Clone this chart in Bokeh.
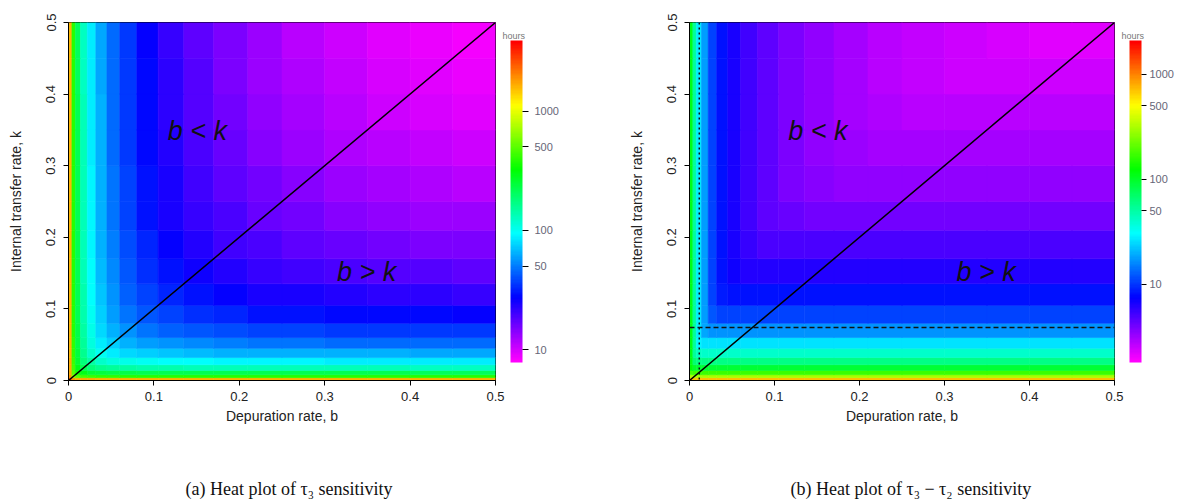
import colorsys
from bokeh.plotting import figure
from bokeh.models import (ColumnDataSource, LogColorMapper, ColorBar, FixedTicker,
                          Label, Span, Title)
from bokeh.layouts import row
from bokeh.embed import file_html
from bokeh.resources import INLINE

# ---------------- data ----------------
# cell edges along depuration rate b and internal transfer rate k
b_edges = [0, 0.004, 0.008, 0.014, 0.022, 0.032, 0.045, 0.06, 0.08, 0.105, 0.135,
           0.17, 0.21, 0.25, 0.3, 0.35, 0.4, 0.45, 0.5]
k_edges = [0, 0.004, 0.008, 0.014, 0.022, 0.032, 0.045, 0.06, 0.08, 0.105, 0.135,
           0.17, 0.21, 0.25, 0.3, 0.35, 0.4, 0.45, 0.5]

# (a) tau3 in hours: one row per k cell (bottom to top), one value per b cell
tau3 = [
    [2600, 1800, 1700, 1650, 1650, 1600, 1600, 1600, 1600, 1600, 1600, 1600, 1600, 1600, 1600, 1600, 1600, 1600],
    [1800, 648, 507, 452, 426, 412, 404, 398, 395, 392, 391, 389, 388, 388, 387, 386, 386, 386],
    [1700, 507, 354, 288, 256, 240, 231, 225, 221, 218, 216, 215, 214, 213, 212, 212, 211, 211],
    [1650, 452, 288, 216, 182, 162, 151, 144, 140, 137, 135, 133, 132, 132, 131, 131, 130, 130],
    [1650, 426, 256, 182, 144, 123, 111, 103, 98, 95, 93, 91, 90, 89, 88, 88, 88, 87],
    [1600, 412, 240, 162, 123, 101, 88, 79, 74, 70, 67, 66, 65, 64, 63, 63, 62, 62],
    [1600, 404, 231, 151, 111, 88, 74, 65, 59, 55, 52, 50, 49, 48, 47, 47, 46.5, 46],
    [1600, 398, 225, 144, 103, 79, 65, 56, 49, 44, 41, 39, 38, 37, 36.4, 35.9, 35.5, 35.2],
    [1600, 395, 221, 140, 98, 74, 59, 49, 42, 37, 34, 32, 30, 29, 28.5, 28, 27.6, 27.2],
    [1600, 392, 218, 137, 95, 70, 55, 44, 37, 32.4, 29.0, 26.7, 25.0, 23.9, 23.0, 22.4, 22.0, 21.6],
    [1600, 391, 216, 135, 93, 67, 52, 41, 34, 29.0, 25.5, 23.0, 21.4, 20.1, 19.1, 18.5, 18.0, 17.6],
    [1600, 389, 215, 133, 91, 66, 50, 39, 32, 26.7, 23.0, 20.5, 18.7, 17.4, 16.4, 15.7, 15.2, 14.8],
    [1600, 388, 214, 132, 90, 65, 49, 38, 30, 25.0, 21.4, 18.7, 16.9, 15.5, 14.5, 13.8, 13.2, 12.8],
    [1600, 388, 213, 132, 89, 64, 48, 37, 29, 23.9, 20.1, 17.4, 15.5, 14.1, 13.1, 12.3, 11.7, 11.3],
    [1600, 387, 212, 131, 88, 63, 47, 36.4, 28.5, 23.0, 19.1, 16.4, 14.5, 13.1, 12.0, 11.2, 10.6, 10.1],
    [1600, 386, 212, 131, 88, 63, 47, 35.9, 28, 22.4, 18.5, 15.7, 13.8, 12.3, 11.2, 10.4, 9.8, 9.3],
    [1600, 386, 211, 130, 88, 62, 46.5, 35.5, 27.6, 22.0, 18.0, 15.2, 13.2, 11.7, 10.6, 9.8, 9.15, 8.7],
    [1600, 386, 211, 130, 87, 62, 46, 35.2, 27.2, 21.6, 17.6, 14.8, 12.8, 11.3, 10.1, 9.3, 8.7, 8.2],
]

# (b) tau3 - tau2 in hours
tau3_minus_tau2 = [
    [750, 700, 700, 700, 700, 700, 700, 700, 700, 700, 700, 700, 700, 700, 700, 700, 700, 700],
    [340, 320, 320, 320, 320, 320, 320, 320, 320, 320, 320, 320, 320, 320, 320, 320, 320, 320],
    [180, 170, 170, 170, 170, 170, 170, 170, 170, 170, 170, 170, 170, 170, 170, 170, 170, 170],
    [120, 97, 95, 95, 95, 95, 95, 95, 95, 95, 95, 95, 95, 95, 95, 95, 95, 95],
    [110, 65, 60, 60, 60, 60, 60, 60, 60, 60, 60, 60, 60, 60, 60, 60, 60, 60],
    [110, 55, 42, 40, 40, 40, 40, 40, 40, 40, 40, 40, 40, 40, 40, 40, 40, 40],
    [110, 55, 29, 26, 26, 26, 26, 26, 26, 26, 26, 26, 26, 26, 26, 26, 26, 26],
    [110, 55, 27, 19, 17, 17, 17, 17, 17, 17, 17, 17, 17, 17, 17, 17, 17, 17],
    [110, 55, 27, 18, 12, 11, 11, 11, 11, 11, 11, 11, 11, 11, 11, 11, 11, 11],
    [110, 55, 27, 18, 11, 8.5, 8.0, 8.0, 8.0, 8.0, 8.0, 8.0, 8.0, 8.0, 8.0, 8.0, 8.0, 8.0],
    [110, 55, 27, 18, 11, 8.0, 6.8, 6.3, 6.3, 6.3, 6.3, 6.3, 6.3, 6.3, 6.3, 6.3, 6.3, 6.3],
    [110, 55, 27, 18, 11, 8.0, 6.5, 5.5, 5.0, 5.0, 5.0, 5.0, 5.0, 5.0, 5.0, 5.0, 5.0, 5.0],
    [110, 55, 27, 18, 11, 8.0, 6.5, 5.2, 4.5, 4.2, 4.0, 4.0, 4.0, 4.0, 4.0, 4.0, 4.0, 4.0],
    [110, 55, 27, 18, 11, 8.0, 6.5, 5.2, 4.5, 3.8, 3.6, 3.4, 3.4, 3.4, 3.4, 3.4, 3.4, 3.4],
    [110, 55, 27, 18, 11, 8.0, 6.5, 5.2, 4.5, 3.8, 3.4, 3.2, 3.0, 3.0, 3.0, 3.0, 3.0, 3.0],
    [110, 55, 27, 18, 11, 8.0, 6.5, 5.2, 4.5, 3.8, 3.4, 3.0, 2.9, 2.7, 2.7, 2.7, 2.7, 2.7],
    [110, 55, 27, 18, 11, 8.0, 6.5, 5.2, 4.5, 3.8, 3.4, 3.0, 2.75, 2.55, 2.5, 2.4, 2.4, 2.4],
    [110, 55, 27, 18, 11, 8.0, 6.5, 5.2, 4.5, 3.8, 3.4, 3.0, 2.75, 2.55, 2.4, 2.3, 2.2, 2.2],
]

# colour scale limits (hours) and legend ticks
scale_a = [7.8, 3900]
scale_b = [1.8, 2100]
cb_ticks_a = [10, 50, 100, 500, 1000]
cb_labels_a = ["10", "50", "100", "500", "1000"]
cb_ticks_b = [10, 50, 100, 500, 1000]
cb_labels_b = ["10", "50", "100", "500", "1000"]
cb_title = "hours"

# axes
axis_ticks = [0, 0.1, 0.2, 0.3, 0.4, 0.5]
axis_labels = ["0", "0.1", "0.2", "0.3", "0.4", "0.5"]

# line b = k and the marked values in panel (b)
diag_b = [0.0, 0.5]
diag_k = [0.0, 0.5]
b_mark = 0.0115
k_mark = 0.074

captions = ["(a) Heat plot of \u03c4\u2083 sensitivity",
            "(b) Heat plot of \u03c4\u2083 \u2212 \u03c4\u2082 sensitivity"]

# ---------------- palette: reversed rainbow, magenta (low) -> red (high) ----------------
N_COL = 128
palette = []
for i in range(N_COL):
    h = (300.0 - 300.0 * i / (N_COL - 1)) / 360.0
    r, g, bb = colorsys.hsv_to_rgb(h, 1.0, 1.0)
    palette.append("#%02x%02x%02x" % (int(round(r * 255)), int(round(g * 255)), int(round(bb * 255))))

SANS = "Liberation Sans"


def make_panel(values, scale, cb_ticks, cb_labels, caption, cap_offset, frame_w, min_right,
               cb_x, cb_tick_out, cb_standoff, marks):
    left, right, bottom, top, val = [], [], [], [], []
    for i in range(len(k_edges) - 1):
        for j in range(len(b_edges) - 1):
            left.append(b_edges[j])
            right.append(b_edges[j + 1])
            bottom.append(k_edges[i])
            top.append(k_edges[i + 1])
            val.append(values[i][j])
    src = ColumnDataSource(dict(left=left, right=right, bottom=bottom, top=top, val=val))

    p = figure(frame_width=frame_w, frame_height=358, x_range=(0, 0.5), y_range=(0, 0.5),
               output_backend="svg", toolbar_location=None,
               min_border_left=68, min_border_right=min_right, min_border_top=22,
               min_border_bottom=112)
    p.background_fill_color = "white"
    p.border_fill_color = "white"
    p.grid.visible = False
    p.outline_line_color = "black"
    p.outline_line_width = 1

    mapper = LogColorMapper(palette=palette, low=scale[0], high=scale[1])
    p.quad(left="left", right="right", bottom="bottom", top="top", source=src,
           fill_color={"field": "val", "transform": mapper},
           line_color={"field": "val", "transform": mapper}, line_width=0.6)

    p.line(diag_b, diag_k, line_color="black", line_width=1.5)

    if marks:
        p.add_layout(Span(location=b_mark, dimension="height", line_color="#111",
                          line_dash="2 3", line_width=1.5))
        p.add_layout(Span(location=k_mark, dimension="width", line_color="#111",
                          line_dash="5 3", line_width=1.3))

    for txt, x, y in (("b < k", 0.151, 0.348), ("b > k", 0.349, 0.151)):
        p.add_layout(Label(x=x, y=y, text=txt, text_font=SANS, text_font_size="27px",
                           text_font_style="italic", text_color="#111",
                           text_align="center", text_baseline="middle"))

    p.xaxis.axis_label = "Depuration rate, b"
    p.yaxis.axis_label = "Internal transfer rate, k"
    for ax in (p.xaxis[0], p.yaxis[0]):
        ax.ticker = FixedTicker(ticks=axis_ticks)
        ax.major_label_overrides = {t: l for t, l in zip(axis_ticks, axis_labels)}
        ax.minor_tick_line_color = None
        ax.major_tick_in = 0
        ax.major_tick_out = 5
        ax.major_tick_line_color = "black"
        ax.axis_line_color = "black"
        ax.major_label_text_font = SANS
        ax.major_label_text_font_size = "13px"
        ax.major_label_text_color = "#222"
        ax.axis_label_text_font = SANS
        ax.axis_label_text_font_size = "14px"
        ax.axis_label_text_font_style = "normal"
        ax.axis_label_text_color = "#222"
    p.xaxis.major_label_standoff = 6
    p.xaxis.axis_label_standoff = 4
    p.yaxis.major_label_orientation = "vertical"
    p.yaxis.major_label_standoff = 8
    p.yaxis.axis_label_standoff = 20

    cb = ColorBar(color_mapper=mapper, ticker=FixedTicker(ticks=cb_ticks),
                  major_label_overrides={t: l for t, l in zip(cb_ticks, cb_labels)},
                  width=12, height=322, location=(cb_x, 18), padding=0, margin=0,
                  major_label_text_font=SANS, major_label_text_font_size="11px",
                  major_label_text_color="#667", major_tick_out=cb_tick_out, major_tick_in=0,
                  major_tick_line_color="black", minor_tick_line_color=None,
                  label_standoff=cb_standoff, bar_line_color=None, background_fill_alpha=0,
                  border_line_color=None)
    p.add_layout(cb)

    # legend title "hours" above the colour bar: an invisible horizontal bar carrying the title
    hours = ColorBar(color_mapper=mapper, orientation="horizontal", ticker=FixedTicker(ticks=[]),
                     width=28, height=1, location=(cb_x - 8, 338), padding=0, margin=0,
                     scale_alpha=0, bar_line_color=None, major_tick_line_color=None,
                     minor_tick_line_color=None, major_label_text_font_size="1px",
                     background_fill_alpha=0, border_line_color=None,
                     title=cb_title, title_text_font=SANS, title_text_font_size="9px",
                     title_text_color="#777", title_text_font_style="normal", title_standoff=1)
    p.add_layout(hours)

    # sub-figure caption below the x axis title
    p.add_layout(Title(text=caption, align="left", offset=cap_offset, standoff=100,
                       text_font="Liberation Serif", text_font_size="18px",
                       text_font_style="normal", text_color="#111"), "below")
    return p


pa = make_panel(tau3, scale_a, cb_ticks_a, cb_labels_a, captions[0], 117, 427, 126, 442,
                6, 6, False)
pb = make_panel(tau3_minus_tau2, scale_b, cb_ticks_b, cb_labels_b, captions[1], 101, 425, 62, 440,
                5, 3, True)

layout = row(pa, pb)
open("out.html", "w").write(file_html(layout, INLINE))
